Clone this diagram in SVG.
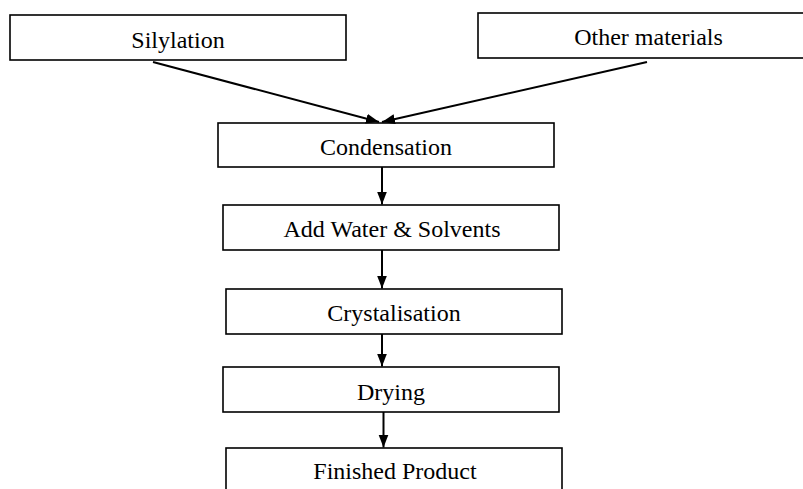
<svg xmlns="http://www.w3.org/2000/svg" width="803" height="489" viewBox="0 0 803 489">
<style>
.box{fill:#fff;stroke:#000;stroke-width:1.6}
.lbl{font-family:"Liberation Serif","Times New Roman",serif;font-size:24px;fill:#000;text-anchor:middle}
.conn{stroke:#000;stroke-width:2;fill:none;marker-end:url(#ah)}
</style>
<defs>
<marker id="ah" markerUnits="userSpaceOnUse" markerWidth="14" markerHeight="12" refX="13" refY="5" orient="auto">
<path d="M0,0 L13,5 L0,10 Z" fill="#000"/>
</marker>
</defs>
<rect width="803" height="489" fill="#fff"/>
<g id="silylation"><rect class="box" x="10" y="15" width="336" height="45"/><text class="lbl" x="178" y="47.5">Silylation</text></g>
<g id="other"><rect class="box" x="478" y="13" width="341" height="45"/><text class="lbl" x="648.5" y="45">Other materials</text></g>
<g id="condensation"><rect class="box" x="218" y="123" width="336" height="44"/><text class="lbl" x="386" y="154.5">Condensation</text></g>
<g id="addwater"><rect class="box" x="223" y="205" width="336" height="45"/><text class="lbl" x="392" y="237">Add Water &amp; Solvents</text></g>
<g id="crystalisation"><rect class="box" x="226" y="289" width="336" height="45"/><text class="lbl" x="394" y="320.5">Crystalisation</text></g>
<g id="drying"><rect class="box" x="223" y="367" width="336" height="45"/><text class="lbl" x="391" y="400">Drying</text></g>
<g id="finished"><rect class="box" x="226" y="448" width="336" height="50"/><text class="lbl" x="395" y="479">Finished Product</text></g>
<g id="connectors">
<line class="conn" x1="153" y1="62" x2="379" y2="122"/>
<line class="conn" x1="647" y1="62" x2="382" y2="122"/>
<line class="conn" x1="382" y1="167" x2="382" y2="204.5"/>
<line class="conn" x1="382" y1="250" x2="382" y2="288.5"/>
<line class="conn" x1="382" y1="334" x2="382" y2="366.5"/>
<line class="conn" x1="383.5" y1="412" x2="383.5" y2="447.5"/>
</g>
</svg>
